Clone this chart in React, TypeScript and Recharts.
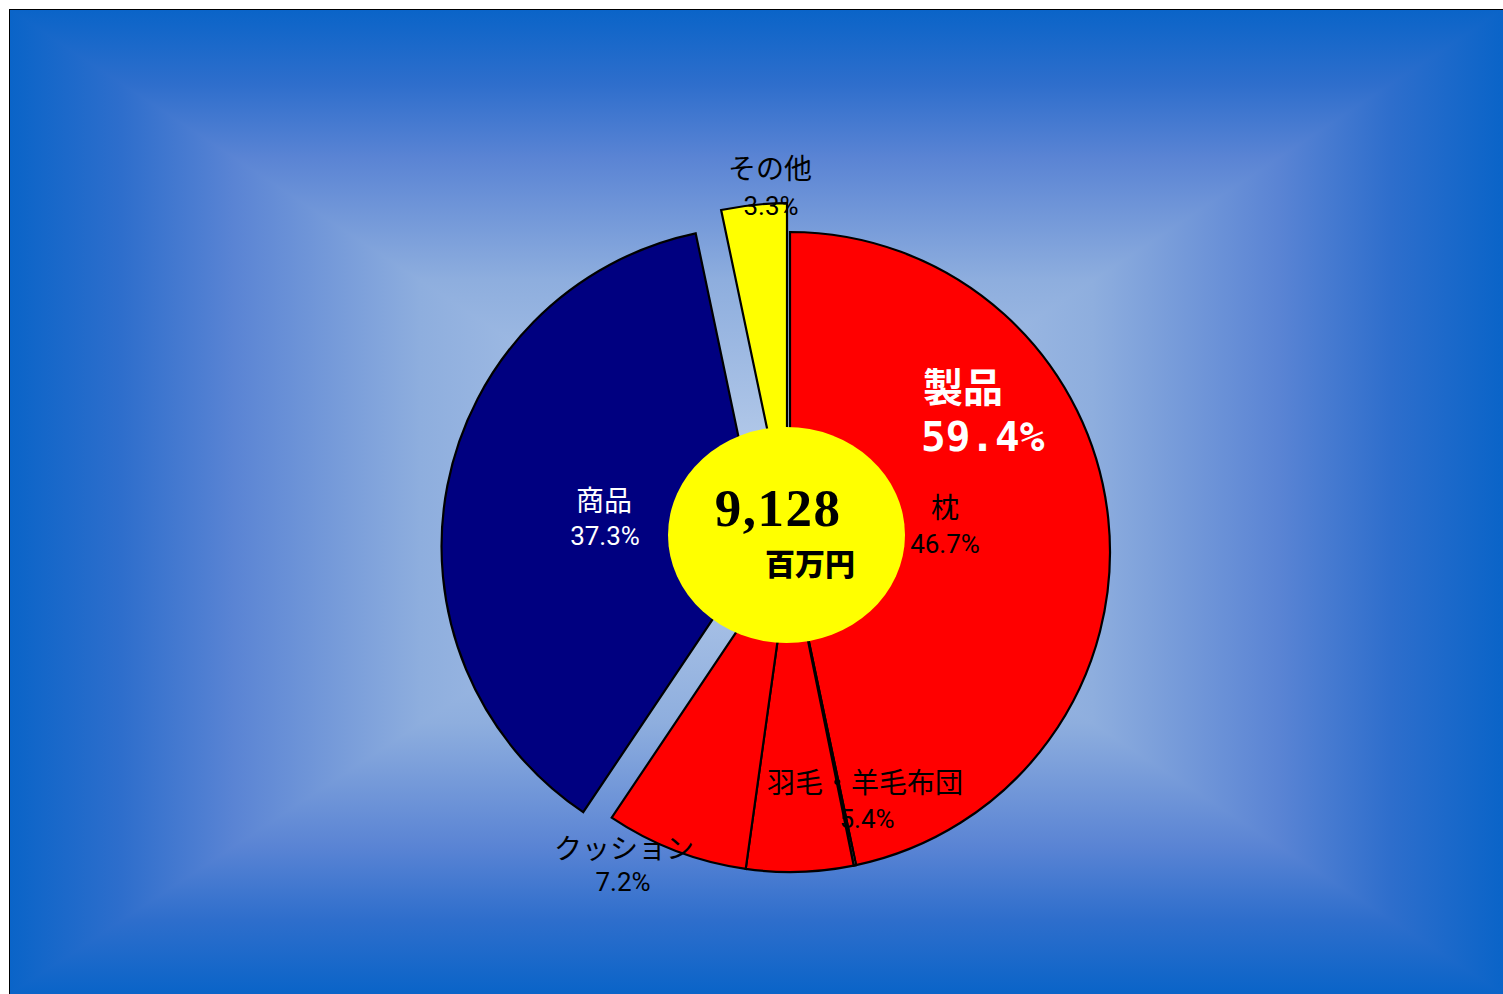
import React from 'react';
import { PieChart, Pie, Cell } from 'recharts';

// ---------- data ----------
const categories = ['枕', '', '羽毛・羊毛布団', 'クッション', '商品', 'その他'];
const shares = [46.7, 0.12, 5.4, 7.2, 37.3, 3.3];
const shareLabels = ['46.7%', '', '5.4%', '7.2%', '37.3%', '3.3%'];
const sliceColors = ['#ff0000', '#b3c7e6', '#ff0000', '#ff0000', '#000080', '#ffff00'];
const explodedFlags = [false, false, false, false, true, true];
const labelColors = ['#000', '#000', '#000', '#000', '#fff', '#000'];
const groupName = '製品';
const groupShare = '59.4%';
const totalValue = '9,128';
const totalUnit = '百万円';

// ---------- layout ----------
const W = 1493;
const H = 984;
const CX = 780;
const CY = 542;
const R = 320;
const EXPLODE = 29;

// label offsets from pie center: [nameDx, nameDy, pctDx, pctDy]
const labelOffsets: Record<string, number[]> = {
  '枕': [155, -46, 155, -8],
  '羽毛・羊毛布団': [75, 229, 77, 267],
  'クッション': [-166, 295, -167, 330],
  '商品': [-186, -53, -185, -16],
  'その他': [-20, -385, -19, -346],
};

const data = categories.map((name, i) => ({ name, value: shares[i], pct: shareLabels[i] }));
const total = shares.reduce((a, b) => a + b, 0);

// mid angle (clockwise from top, degrees) for each slice
const midAngles = shares.map((v, i) => {
  const before = shares.slice(0, i).reduce((a, b) => a + b, 0);
  return ((before + v / 2) / total) * 360;
});

const renderLabel = (props: any) => {
  const { index, cx, cy } = props;
  const name = categories[index];
  const off = labelOffsets[name];
  if (!off) return null;
  const color = labelColors[index];
  return (
    <g key={`lbl-${index}`}>
      <text
        x={cx + off[0]}
        y={cy + off[1]}
        textAnchor="middle"
        dominantBaseline="central"
        fill={color}
        fontSize={28}
        fontFamily="'Noto Sans CJK JP', sans-serif"
      >
        {name}
      </text>
      <text
        x={cx + off[2]}
        y={cy + off[3]}
        textAnchor="middle"
        dominantBaseline="central"
        fill={color}
        fontSize={26}
        fontFamily="Roboto, 'Noto Sans CJK JP', sans-serif"
      >
        {shareLabels[index]}
      </text>
    </g>
  );
};

const gradStops = [
  [0, '#0a64c8'],
  [0.15, '#2e6ecc'],
  [0.3, '#5a84d4'],
  [0.55, '#8eaede'],
  [1, '#bed1ec'],
];

const Grad = ({ id, x1, y1, x2, y2 }: any) => (
  <linearGradient id={id} x1={x1} y1={y1} x2={x2} y2={y2} gradientUnits="userSpaceOnUse">
    {gradStops.map(([o, c]) => (
      <stop key={String(o)} offset={o as number} stopColor={c as string} />
    ))}
  </linearGradient>
);

const Background = () => (
  <svg width={W} height={H} style={{ position: 'absolute', left: 0, top: 0 }}>
    <defs>
      <Grad id="gTop" x1={0} y1={0} x2={0} y2={H / 2} />
      <Grad id="gBottom" x1={0} y1={H} x2={0} y2={H / 2} />
      <Grad id="gLeft" x1={0} y1={0} x2={W / 2} y2={0} />
      <Grad id="gRight" x1={W} y1={0} x2={W / 2} y2={0} />
    </defs>
    <g shapeRendering="crispEdges">
      <polygon points={`0,0 ${W},0 ${W / 2},${H / 2}`} fill="url(#gTop)" />
      <polygon points={`0,${H} ${W},${H} ${W / 2},${H / 2}`} fill="url(#gBottom)" />
      <polygon points={`0,0 0,${H} ${W / 2},${H / 2}`} fill="url(#gLeft)" />
      <polygon points={`${W},0 ${W},${H} ${W / 2},${H / 2}`} fill="url(#gRight)" />
    </g>
  </svg>
);

const Overlay = () => (
  <svg width={W} height={H} style={{ position: 'absolute', left: 0, top: 0, pointerEvents: 'none' }}>
    <ellipse cx={CX - 3.5} cy={CY - 17} rx={118.5} ry={108} fill="#ffff00" />
    <text
      x={CX - 12}
      y={CY - 26}
      textAnchor="middle"
      fontSize={53}
      fontWeight="bold"
      fontFamily="'Liberation Serif', 'DejaVu Serif', serif"
      letterSpacing={1.5}
      fill="#000"
    >
      {totalValue}
    </text>
    <text
      x={CX + 20}
      y={CY + 10}
      textAnchor="middle"
      dominantBaseline="central"
      fontSize={30}
      fontWeight={900}
      fontFamily="'Noto Sans CJK JP', serif"
      fill="#000"
    >
      {totalUnit}
    </text>
    <text
      x={CX + 133}
      y={CY - 167}
      textAnchor="start"
      dominantBaseline="central"
      fontSize={40}
      fontWeight="bold"
      fontFamily="'Noto Sans CJK JP', sans-serif"
      fill="#fff"
    >
      {groupName}
    </text>
    <text
      x={CX + 131}
      y={CY - 115}
      textAnchor="start"
      dominantBaseline="central"
      fontSize={41}
      fontWeight="bold"
      fontFamily="'DejaVu Sans Mono', monospace"
      fill="#fff"
    >
      {groupShare}
    </text>
  </svg>
);

const PieLayer = ({ explodeIndex }: { explodeIndex: number | null }) => {
  let cx = CX;
  let cy = CY;
  if (explodeIndex !== null) {
    const a = (midAngles[explodeIndex] * Math.PI) / 180;
    cx = CX + EXPLODE * Math.sin(a);
    cy = CY - EXPLODE * Math.cos(a);
  }
  return (
    <Pie
      key={`pie-${explodeIndex === null ? 'base' : explodeIndex}`}
      data={data}
      dataKey="value"
      nameKey="name"
      cx={cx}
      cy={cy}
      outerRadius={R}
      innerRadius={0}
      startAngle={90}
      endAngle={-270}
      isAnimationActive={false}
      label={explodeIndex === null ? renderLabel : false}
      labelLine={false}
    >
      {data.map((d, i) => {
        const visible = explodeIndex === null ? !explodedFlags[i] : i === explodeIndex;
        return (
          <Cell
            key={`c-${i}`}
            fill={visible ? sliceColors[i] : 'none'}
            stroke={visible ? '#000' : 'none'}
            strokeWidth={visible ? 2.2 : 0}
          />
        );
      })}
    </Pie>
  );
};

export default function App() {
  const explodedIdx = explodedFlags.map((f, i) => (f ? i : -1)).filter((i) => i >= 0);
  return (
    <div
      style={{
        position: 'absolute',
        left: 9,
        top: 9,
        width: W,
        height: H,
        border: '1px solid #000',
        borderRight: 'none',
        borderBottom: 'none',
        overflow: 'hidden',
      }}
    >
      <Background />
      <div style={{ position: 'absolute', left: 0, top: 0 }}>
        <PieChart width={W} height={H} margin={{ top: 0, right: 0, bottom: 0, left: 0 }}>
          {explodedIdx.map((i) => PieLayer({ explodeIndex: i }))}
          {PieLayer({ explodeIndex: null })}
        </PieChart>
      </div>
      <Overlay />
    </div>
  );
}
